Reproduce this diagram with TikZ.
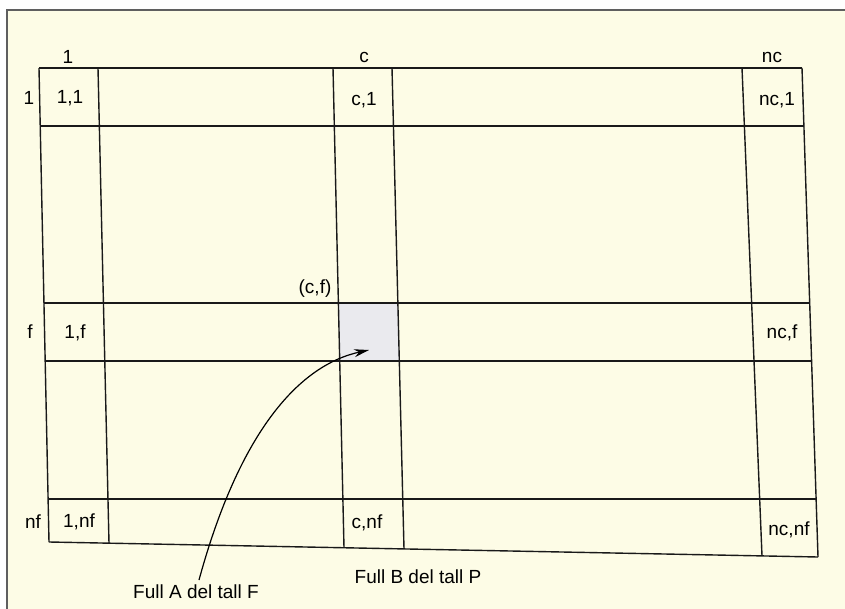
\documentclass[tikz,border=0pt]{standalone}
\usepackage{fontspec}
\setmainfont{Liberation Sans}
\usetikzlibrary{arrows.meta}
\definecolor{cream}{RGB}{253,252,230}
\definecolor{cellgray}{RGB}{234,234,238}
\definecolor{framegray}{RGB}{95,95,95}
\begin{document}
\begin{tikzpicture}[x=1pt,y=-1pt,
  gridline/.style={line width=1.4pt, black!90},
  framestyle/.style={line width=2pt, framegray},
  lbl/.style={font=\fontsize{19}{21}\selectfont, inner sep=0pt, text=black},
  pointer/.style={line width=1.2pt, black, -{Stealth[length=15pt,width=8pt]}},
]
\useasboundingbox (0,0) rectangle (845,609);
\fill[white] (0,0) rectangle (845,609);
\fill[cream] (7,10) rectangle (845,609);
\draw[framestyle] (846,10) -- (7,10) -- (7,610);

% shaded cell (c,f)
\fill[cellgray] (338.4,303) -- (397.9,303) -- (399.3,361) -- (339.7,361) -- cycle;
\coordinate (cf) at (369,350);

% vertical lines
\draw[gridline] (39,68) -- (49,542);
\draw[gridline] (98,68) -- (109,543.2);
\draw[gridline] (333,68) -- (344,547.8);
\draw[gridline] (392,68) -- (404,548.9);
\draw[gridline] (742,68) -- (762,555.9);
\draw[gridline] (802,68) -- (818,557);
% horizontal lines
\draw[gridline] (39,68) -- (802,68);
\draw[gridline] (40.2,126) -- (803.9,126);
\draw[gridline] (44,303) -- (809.7,303);
\draw[gridline] (45.2,361) -- (811.6,361);
\draw[gridline] (48.1,499) -- (816.1,499);
\draw[gridline] (49,542) -- (818,557);

% column labels
\node[lbl] (col1) at (68,57) {1};
\node[lbl] (colc) at (364,57) {c};
\node[lbl] (colnc) at (772,57) {nc};
% row labels
\node[lbl] (row1) at (29,98) {1};
\node[lbl] (rowf) at (30,332) {f};
\node[lbl] (rownf) at (33,522) {nf};
% cell labels
\node[lbl] (c11) at (70,98) {1,1};
\node[lbl] (cc1) at (364,100) {c,1};
\node[lbl] (cnc1) at (777,100) {nc,1};
\node[lbl] (c1f) at (75,333) {1,f};
\node[lbl] (cncf) at (782,333) {nc,f};
\node[lbl] (c1nf) at (79,522) {1,nf};
\node[lbl] (ccnf) at (367,523) {c,nf};
\node[lbl] (cncnf) at (789,530) {nc,nf};
\node[lbl] (cflabel) at (315,289) {(c,f)};

% bottom texts
\node[lbl] (fullA) at (196,592) {Full A del tall F};
\node[lbl] (fullB) at (418,577) {Full B del tall P};

\coordinate (astart) at (199,580);
\draw[pointer] (astart) .. controls (240,430) and (300,365) .. (cf);
\end{tikzpicture}
\end{document}
